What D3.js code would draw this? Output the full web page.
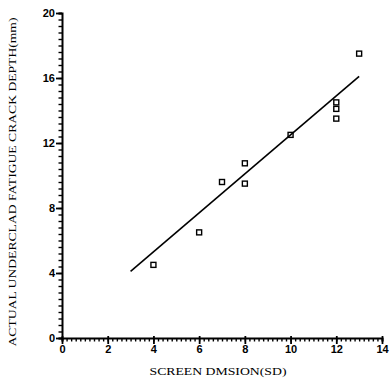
<!DOCTYPE html>
<html lang="en">
<head>
<meta charset="UTF-8">
<title>Crack depth vs screen division</title>
<script src="https://d3js.org/d3.v7.min.js"></script>
<style>
    body {
        margin: 0;
        background-color: #fff;
    }
    .tickLabel {
        font-family: "Liberation Sans", Arial, sans-serif;
        font-weight: bold;
        font-size: 11px;
    }
    .axisTitle {
        font-family: "Liberation Serif", "Times New Roman", serif;
        font-size: 11px;
    }
</style>
</head>
<body>
<script>
    const width = 392;
    const height = 381;

    // data
    const screenDiv = [4, 6, 7, 8, 8, 10, 12, 12, 12, 13];
    const crackDepth = [4.5, 6.5, 9.6, 10.75, 9.5, 12.5, 14.5, 14.1, 13.5, 17.5];
    const fitX = [3, 13];
    const fitY = [4.1, 16.1];
    const xTicks = [0, 2, 4, 6, 8, 10, 12, 14];
    const yTicks = [0, 4, 8, 12, 16, 20];

    const svg = d3.select("body").append("svg")
        .attr("width", width)
        .attr("height", height);

    const x = d3.scaleLinear().domain([0, 14]).range([62, 382]);
    const y = d3.scaleLinear().domain([0, 20]).range([338, 13]);

    // minor ticks
    const xMinor = d3.range(0, 14.001, 0.2);
    const yMinor = d3.range(0, 20.001, 0.4);

    svg.append("g")
        .attr("transform", "translate(0,338)")
        .call(d3.axisBottom(x).tickValues(xMinor).tickSize(3.5).tickFormat(""))
        .call(g => g.selectAll("line").attr("stroke", "#000").attr("stroke-width", 1.4))
        .call(g => g.select(".domain").attr("stroke", "#000").attr("stroke-width", 2));

    svg.append("g")
        .attr("transform", "translate(0,338)")
        .call(d3.axisBottom(x).tickValues(xTicks).tickSize(6).tickPadding(1).tickFormat(d3.format("d")))
        .call(g => g.select(".domain").remove())
        .call(g => g.selectAll("line").attr("stroke", "#000").attr("stroke-width", 1.8).attr("y1", -2))
        .call(g => g.selectAll("text").attr("class", "tickLabel").attr("fill", "#000"));

    svg.append("g")
        .attr("transform", "translate(62,0)")
        .call(d3.axisLeft(y).tickValues(yMinor).tickSize(3.5).tickFormat(""))
        .call(g => g.selectAll("line").attr("stroke", "#000").attr("stroke-width", 1.4))
        .call(g => g.select(".domain").attr("stroke", "#000").attr("stroke-width", 2));

    svg.append("g")
        .attr("transform", "translate(62,0)")
        .call(d3.axisLeft(y).tickValues(yTicks).tickSize(6).tickPadding(1).tickFormat(d3.format("d")))
        .call(g => g.select(".domain").remove())
        .call(g => g.selectAll("line").attr("stroke", "#000").attr("stroke-width", 1.8))
        .call(g => g.selectAll("text").attr("class", "tickLabel").attr("fill", "#000"));

    // regression line
    const line = d3.line()
        .x(d => x(d[0]))
        .y(d => y(d[1]));

    svg.append("path")
        .datum(d3.zip(fitX, fitY))
        .attr("d", line)
        .attr("fill", "none")
        .attr("stroke", "#000")
        .attr("stroke-width", 1.6);

    // data squares
    svg.selectAll(".pt")
        .data(d3.zip(screenDiv, crackDepth))
        .enter().append("rect")
        .attr("class", "pt")
        .attr("x", d => x(d[0]) - 2.5)
        .attr("y", d => y(d[1]) - 2.5)
        .attr("width", 5)
        .attr("height", 5)
        .attr("fill", "none")
        .attr("stroke", "#000")
        .attr("stroke-width", 1.4);

    // axis titles
    svg.append("text")
        .attr("class", "axisTitle")
        .attr("x", 218)
        .attr("y", 375)
        .attr("text-anchor", "middle")
        .attr("textLength", 137)
        .attr("lengthAdjust", "spacingAndGlyphs")
        .text("SCREEN DMSION(SD)");

    svg.append("text")
        .attr("class", "axisTitle")
        .attr("transform", "translate(16,182) rotate(-90)")
        .attr("text-anchor", "middle")
        .attr("textLength", 329)
        .attr("lengthAdjust", "spacingAndGlyphs")
        .text("ACTUAL UNDERCLAD FATIGUE CRACK DEPTH(mm)");
</script>
</body>
</html>
